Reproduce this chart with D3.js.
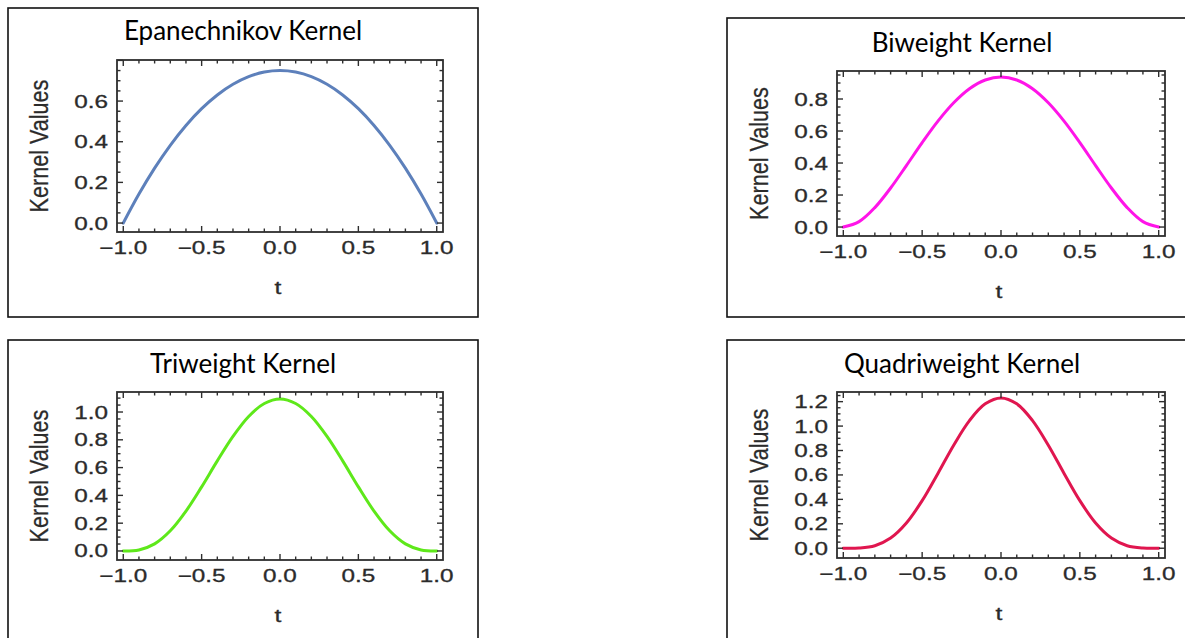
<!DOCTYPE html>
<html>
<head>
<meta charset="utf-8">
<script src="https://cdn.jsdelivr.net/npm/d3@7"></script>
<style>
  html, body { margin: 0; padding: 0; background: #fff; }
  svg { display: block; }
</style>
</head>
<body>
<svg id="chart" width="1185" height="638"></svg>
<script>
// ---------- data ----------
const tValues = [-1, -0.9, -0.8, -0.7, -0.6, -0.5, -0.4, -0.3, -0.2, -0.1, 0,
                 0.1, 0.2, 0.3, 0.4, 0.5, 0.6, 0.7, 0.8, 0.9, 1];
const epanechnikovValues = [0, 0.1425, 0.27, 0.3825, 0.48, 0.5625, 0.63, 0.6825, 0.72, 0.7425, 0.75,
                            0.7425, 0.72, 0.6825, 0.63, 0.5625, 0.48, 0.3825, 0.27, 0.1425, 0];
const biweightValues = [0, 0.0338, 0.1215, 0.2438, 0.384, 0.5273, 0.6615, 0.7763, 0.864, 0.9188, 0.9375,
                        0.9188, 0.864, 0.7763, 0.6615, 0.5273, 0.384, 0.2438, 0.1215, 0.0338, 0];
const triweightValues = [0, 0.0075, 0.051, 0.1451, 0.2867, 0.4614, 0.6483, 0.8242, 0.9677, 1.0613, 1.0938,
                         1.0613, 0.9677, 0.8242, 0.6483, 0.4614, 0.2867, 0.1451, 0.051, 0.0075, 0];
const quadriweightValues = [0, 0.0016, 0.0207, 0.0832, 0.2064, 0.3893, 0.6126, 0.8438, 1.0451, 1.182, 1.2305,
                            1.182, 1.0451, 0.8438, 0.6126, 0.3893, 0.2064, 0.0832, 0.0207, 0.0016, 0];
const kernelTitles = ["Epanechnikov Kernel", "Biweight Kernel", "Triweight Kernel", "Quadriweight Kernel"];
const xTickValues = [-1, -0.5, 0, 0.5, 1];
const xTickLabels = ["\u22121.0", "\u22120.5", "0.0", "0.5", "1.0"];
const epanechnikovYTicks = [0, 0.2, 0.4, 0.6];
const biweightYTicks = [0, 0.2, 0.4, 0.6, 0.8];
const triweightYTicks = [0, 0.2, 0.4, 0.6, 0.8, 1.0];
const quadriweightYTicks = [0, 0.2, 0.4, 0.6, 0.8, 1.0, 1.2];
const xAxisTitle = "t";
const yAxisTitle = "Kernel Values";

// ---------- layout ----------
const svg = d3.select("#chart");
const panels = [
  { values: epanechnikovValues, yTicks: epanechnikovYTicks, color: "#5d80bb",
    box: [8, 8, 478, 317], frame: [117, 60, 443, 232], yDom: [-0.044, 0.802],
    titleX: 243, titleY: 40, yLabelX: 42 },
  { values: biweightValues, yTicks: biweightYTicks, color: "#ff14e8",
    box: [727, 18, 1200, 317], frame: [837, 71, 1165, 236], yDom: [-0.056, 0.975],
    titleX: 962, titleY: 52, yLabelX: 762 },
  { values: triweightValues, yTicks: triweightYTicks, color: "#5ee81a",
    box: [8, 340, 478, 660], frame: [117, 392, 443, 560], yDom: [-0.065, 1.144],
    titleX: 243, titleY: 373, yLabelX: 42 },
  { values: quadriweightValues, yTicks: quadriweightYTicks, color: "#e0164f",
    box: [727, 340, 1200, 660], frame: [837, 392, 1165, 558], yDom: [-0.08, 1.279],
    titleX: 962, titleY: 373, yLabelX: 762 }
];

const tickFont = "'Liberation Sans', Arial, sans-serif";
const textColor = "#2b2b2b";

panels.forEach((p, i) => {
  const [bx0, by0, bx1, by1] = p.box;
  svg.append("rect")
    .attr("x", bx0).attr("y", by0)
    .attr("width", bx1 - bx0).attr("height", by1 - by0)
    .attr("fill", "none").attr("stroke", "#111").attr("stroke-width", 1.6);

  svg.append("text")
    .attr("x", p.titleX).attr("y", p.titleY)
    .attr("text-anchor", "middle")
    .attr("font-family", "Lato, 'Open Sans', sans-serif")
    .attr("font-size", 26)
    .attr("fill", "#000")
    .text(kernelTitles[i]);

  const [fx0, fy0, fx1, fy1] = p.frame;
  const x = d3.scaleLinear().domain([-1.04, 1.04]).range([fx0, fx1]);
  const y = d3.scaleLinear().domain(p.yDom).range([fy1, fy0]);

  const g = svg.append("g");

  // curve
  const line = d3.line()
    .x((d, j) => x(tValues[j]))
    .y(d => y(d))
    .curve(d3.curveCatmullRom.alpha(0.5));
  g.append("path")
    .datum(p.values)
    .attr("d", line)
    .attr("fill", "none")
    .attr("stroke", p.color)
    .attr("stroke-width", 3)
    .attr("stroke-linecap", "round");

  // frame
  g.append("rect")
    .attr("x", fx0).attr("y", fy0)
    .attr("width", fx1 - fx0).attr("height", fy1 - fy0)
    .attr("fill", "none").attr("stroke", "#2e2e2e").attr("stroke-width", 1.8);

  // x ticks (major + minor), mirrored on top
  const xMinor = d3.range(-10, 11).map(k => k / 10);
  xMinor.forEach(v => {
    const isMajor = xTickValues.some(m => Math.abs(m - v) < 1e-9);
    const len = isMajor ? 6 : 3.5;
    const px = x(v);
    g.append("line").attr("x1", px).attr("x2", px).attr("y1", fy1).attr("y2", fy1 - len)
      .attr("stroke", "#2e2e2e").attr("stroke-width", 1.4);
    g.append("line").attr("x1", px).attr("x2", px).attr("y1", fy0).attr("y2", fy0 + len)
      .attr("stroke", "#2e2e2e").attr("stroke-width", 1.4);
  });
  xTickValues.forEach((v, j) => {
    g.append("text")
      .attr("transform", `translate(${x(v)},${fy1 + 22}) scale(1.35,1)`)
      .attr("text-anchor", "middle")
      .attr("font-family", tickFont)
      .attr("font-size", 18)
      .attr("fill", textColor)
      .attr("stroke", textColor).attr("stroke-width", 0.3)
      .text(xTickLabels[j]);
  });

  // y ticks
  const yMax = p.yDom[1];
  const yMinor = d3.range(0, Math.floor(yMax / 0.05 + 1e-6) + 1).map(k => k * 0.05);
  yMinor.forEach(v => {
    const isMajor = Math.abs(v / 0.2 - Math.round(v / 0.2)) < 1e-6;
    const len = isMajor ? 6 : 3.5;
    const py = y(v);
    g.append("line").attr("x1", fx0).attr("x2", fx0 + len).attr("y1", py).attr("y2", py)
      .attr("stroke", "#2e2e2e").attr("stroke-width", 1.4);
    g.append("line").attr("x1", fx1).attr("x2", fx1 - len).attr("y1", py).attr("y2", py)
      .attr("stroke", "#2e2e2e").attr("stroke-width", 1.4);
  });
  p.yTicks.forEach(v => {
    g.append("text")
      .attr("transform", `translate(${fx0 - 9},${y(v) + 6.5}) scale(1.35,1)`)
      .attr("text-anchor", "end")
      .attr("font-family", tickFont)
      .attr("font-size", 18)
      .attr("fill", textColor)
      .attr("stroke", textColor).attr("stroke-width", 0.3)
      .text(v.toFixed(1));
  });

  // axis titles
  g.append("text")
    .attr("transform", `translate(${(fx0 + fx1) / 2 - 2},${fy1 + 62}) scale(1.3,1)`)
    .attr("text-anchor", "middle")
    .attr("font-family", tickFont)
    .attr("font-size", 19)
    .attr("fill", textColor)
    .attr("stroke", textColor).attr("stroke-width", 0.3)
    .text(xAxisTitle);
  g.append("text")
    .attr("transform", `translate(${p.yLabelX + 6},${(fy0 + fy1) / 2}) rotate(-90) scale(1.2,1.4)`)
    .attr("text-anchor", "middle")
    .attr("font-family", tickFont)
    .attr("font-size", 18)
    .attr("fill", textColor)
    .attr("stroke", textColor).attr("stroke-width", 0.2)
    .text(yAxisTitle);
});
</script>
</body>
</html>
